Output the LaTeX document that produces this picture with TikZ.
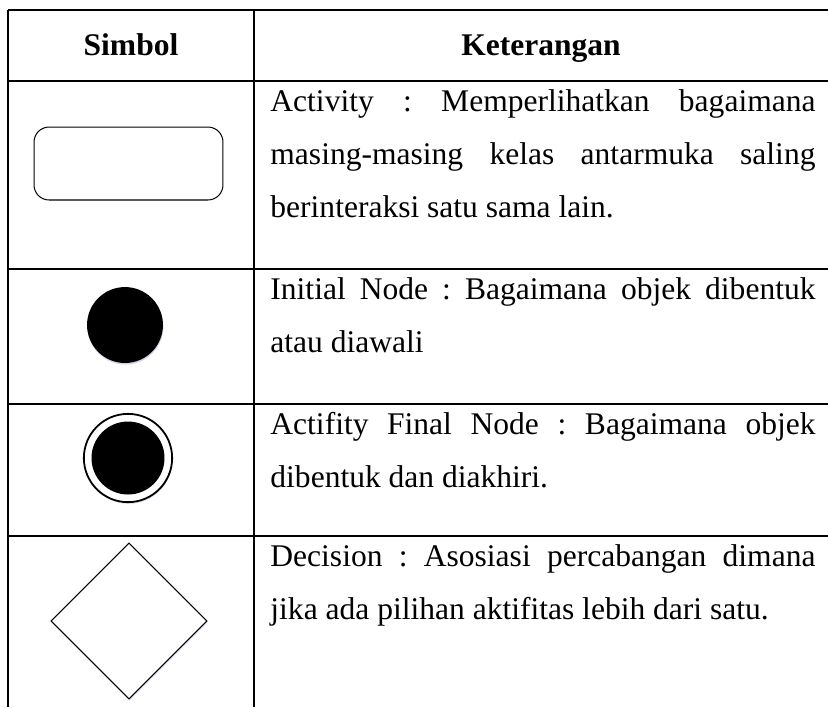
\documentclass[tikz,border=0pt]{standalone}
\usepackage{fontspec}
\setmainfont{Liberation Serif}
\usetikzlibrary{shapes.geometric,shadows}
\frenchspacing
\tikzset{
  % rules of the table
  rule/.style={line width=0.7pt},
  % bold column heads
  headtext/.style={anchor=base, inner sep=0pt, font=\fontsize{14}{16}\selectfont\bfseries},
  % justified text of the right column
  desc/.style={anchor=base west, text width=242pt, align=justify, inner sep=0pt,
    font=\fontsize{14}{23.6}\selectfont},
  % faint shadow under the symbols
  soft shadow/.style={drop shadow={shadow xshift=0.2pt, shadow yshift=-0.7pt,
    fill=blue!40!gray, opacity=0.25}},
  activity/.style={draw, rounded corners=6.7pt, minimum width=83.9pt,
    minimum height=32.4pt, line width=0.45pt, inner sep=0pt},
  initnode/.style={circle, fill=black, minimum size=33.7pt, inner sep=0pt, soft shadow},
  finalring/.style={circle, draw, fill=white, line width=0.8pt, minimum size=39.2pt,
    inner sep=0pt, soft shadow},
  finaldot/.style={circle, fill=black, minimum size=32.4pt, inner sep=0pt},
  decision/.style={diamond, draw, fill=white, line width=0.45pt, minimum width=69.3pt,
    minimum height=69.3pt, inner sep=0pt, soft shadow},
}

\begin{document}
\begin{tikzpicture}[x=0.444pt, y=-0.444pt]
\useasboundingbox (0,0) rectangle (828,707);
% table lines
\foreach \y in {10,81,269,404,536}
  \draw[rule] (8,\y) -- (828,\y);
\draw[rule] (8,10) -- (8,707);
\draw[rule] (254,10) -- (254,707);
% heads
\node[headtext] (simbol) at (131,55) {Simbol};
\node[headtext] (ket) at (541,55) {Keterangan};
% symbols
\node[activity] (act) at (128.5,163.5) {};
\node[initnode] (init) at (125,325) {};
\node[finalring] (fin) at (128,458) {};
\node[finaldot] (findot) at (fin) {};
\node[decision] (dec) at (129,621) {};
% descriptions
\node[desc] (dact) at (270,111) {Activity : Memperlihatkan bagaimana\linebreak
  masing-masing kelas antarmuka saling\linebreak berinteraksi satu sama lain.};
\node[desc] (dinit) at (270,299) {Initial Node : Bagaimana objek dibentuk\linebreak
  atau diawali};
\node[desc] (dfin) at (270,434) {Actifity Final Node : Bagaimana objek\linebreak
  dibentuk dan diakhiri.};
\node[desc] (ddec) at (270,566) {Decision : Asosiasi percabangan dimana\linebreak
  jika ada pilihan aktifitas lebih dari satu.};
\end{tikzpicture}
\end{document}
